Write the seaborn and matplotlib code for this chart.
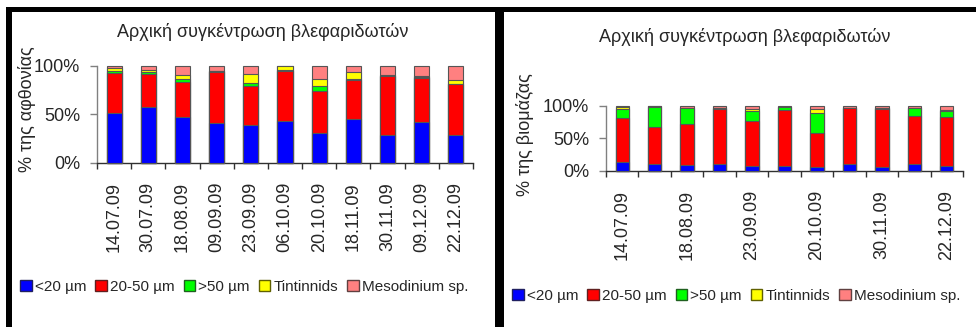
import matplotlib
matplotlib.use("Agg")
import matplotlib.pyplot as plt
from matplotlib.patches import Patch, Rectangle
import numpy as np
import pandas as pd
import seaborn as sns

sns.set_theme(style="white")
plt.rcParams["font.family"] = ["Liberation Sans", "DejaVu Sans"]

dates = ["14.07.09", "30.07.09", "18.08.09", "09.09.09", "23.09.09", "06.10.09",
         "20.10.09", "18.11.09", "30.11.09", "09.12.09", "22.12.09"]
groups = ["<20 µm", "20-50 µm", ">50 µm", "Tintinnids", "Mesodinium sp."]
colors = ["#0000FF", "#FF0000", "#00FF00", "#FFFF00", "#FF8080"]
legend_edges = ["#202060", "#602020", "#206020", "#606000", "#604040"]

# Relative abundance (%) per size class / group
abund_small = [51, 57, 47, 41, 39, 43, 31, 45, 29, 42, 29]
abund_mid = [42, 35, 36, 53, 40, 52, 43.5, 41, 60.5, 46, 52]
abund_large = [2, 2, 4, 0.5, 3, 0.5, 5, 1, 0.5, 0.5, 0.5]
abund_tint = [3, 2, 4, 0.5, 10, 4.5, 7.5, 6.5, 0.5, 1.5, 4.5]
abund_meso = [2, 4, 9, 5, 8, 0, 13, 6.5, 9.5, 10, 14]

# Relative biomass (%) per size class / group
bio_small = [14, 10, 9, 10, 8, 7, 6, 10, 6, 10, 7]
bio_mid = [67, 58, 63, 86, 69, 87, 53, 86.5, 90, 74.5, 75.5]
bio_large = [15, 31, 24.5, 1, 15, 4, 30, 0.5, 0.5, 12, 10]
bio_tint = [2, 0.5, 0.5, 0.5, 4, 1, 6, 0.5, 0.5, 0.5, 2]
bio_meso = [2, 0.5, 3, 2.5, 4, 1, 5, 2.5, 3, 3, 5.5]

title = "Αρχική συγκέντρωση βλεφαριδωτών"

W, H = 976, 327
fig = plt.figure(figsize=(W / 100, H / 100), dpi=100)


def fx(px):
    return px / W


def fy(py):
    return 1 - py / H


def stacked(ax, layers, width, show_every=1):
    arr = np.array(layers, dtype=float)
    arr = arr / arr.sum(axis=0) * 100
    cum = np.cumsum(arr, axis=0)
    # draw from the top layer down so lower segments overlay upper ones
    for i in range(len(groups) - 1, -1, -1):
        df = pd.DataFrame({"date": dates, "value": cum[i]})
        sns.barplot(data=df, x="date", y="value", order=dates, color=colors[i],
                    saturation=1, width=width, edgecolor="#555555", linewidth=0.8,
                    ax=ax, clip_on=False, zorder=2 + (len(groups) - i))
    ax.set_xlim(-0.5, len(dates) - 0.5)
    ax.set_ylim(0, 100)
    ax.set_yticks([0, 50, 100])
    ax.set_yticklabels(["0%", "50%", "100%"], fontsize=13)
    ax.set_xlabel("")
    ax.set_ylabel("")
    for s in ["top", "right"]:
        ax.spines[s].set_visible(False)
    ax.spines["left"].set_color("#808080")
    ax.spines["left"].set_linewidth(1.0)
    ax.spines["bottom"].set_color("#303030")
    ax.spines["bottom"].set_linewidth(1.0)
    ax.tick_params(axis="y", length=5, width=1, color="#808080", pad=7, left=True)
    ax.set_xticks(range(len(dates)))
    labels = [d if k % show_every == 0 else "" for k, d in enumerate(dates)]
    ax.set_xticklabels(labels, rotation=90, fontsize=13)
    ax.tick_params(axis="x", which="major", length=0, pad=14)
    ax.set_xticks(np.arange(-0.5, len(dates), 1.0), minor=True)
    ax.tick_params(axis="x", which="minor", length=4.5, width=1, color="#303030",
                   bottom=True)
    ax.grid(False)


ax1 = fig.add_axes([fx(97), fy(162.5), fx(473) - fx(97), fy(66) - fy(162.5)])
stacked(ax1, [abund_small, abund_mid, abund_large, abund_tint, abund_meso], 0.44)

ax2 = fig.add_axes([fx(606), fy(170.7), fx(963) - fx(606), fy(106) - fy(170.7)])
stacked(ax2, [bio_small, bio_mid, bio_large, bio_tint, bio_meso], 0.41, show_every=2)

fig.text(fx(263), fy(32), title, fontsize=13, ha="center", va="center")
fig.text(fx(745), fy(37), title, fontsize=13, ha="center", va="center")
fig.text(fx(27), fy(109), "% της αφθονίας", fontsize=13, rotation=90,
         ha="center", va="center")
fig.text(fx(525), fy(135), "% της βιομάζας", fontsize=13, rotation=90,
         ha="center", va="center")

handles = [Patch(facecolor=c, edgecolor=e, linewidth=1.0)
           for c, e in zip(colors, legend_edges)]
for cx, cy in [(244, 287), (736, 296)]:
    fig.legend(handles, groups, loc="center", bbox_to_anchor=(fx(cx), fy(cy)),
               ncol=5, frameon=False, fontsize=11, handlelength=0.75,
               handleheight=0.75, handletextpad=0.2, columnspacing=0.6,
               borderpad=0, borderaxespad=0)

# black frame lines around and between the two panels
for x0, y0, x1, y1 in [(6, 7, 976, 12), (6, 7, 12, 327), (495, 7, 504, 327)]:
    fig.patches.append(Rectangle((fx(x0), fy(y1)), fx(x1) - fx(x0), fy(y0) - fy(y1),
                                 transform=fig.transFigure, facecolor="black",
                                 edgecolor="none", zorder=10))

fig.savefig("out.png", dpi=100, facecolor="white")
